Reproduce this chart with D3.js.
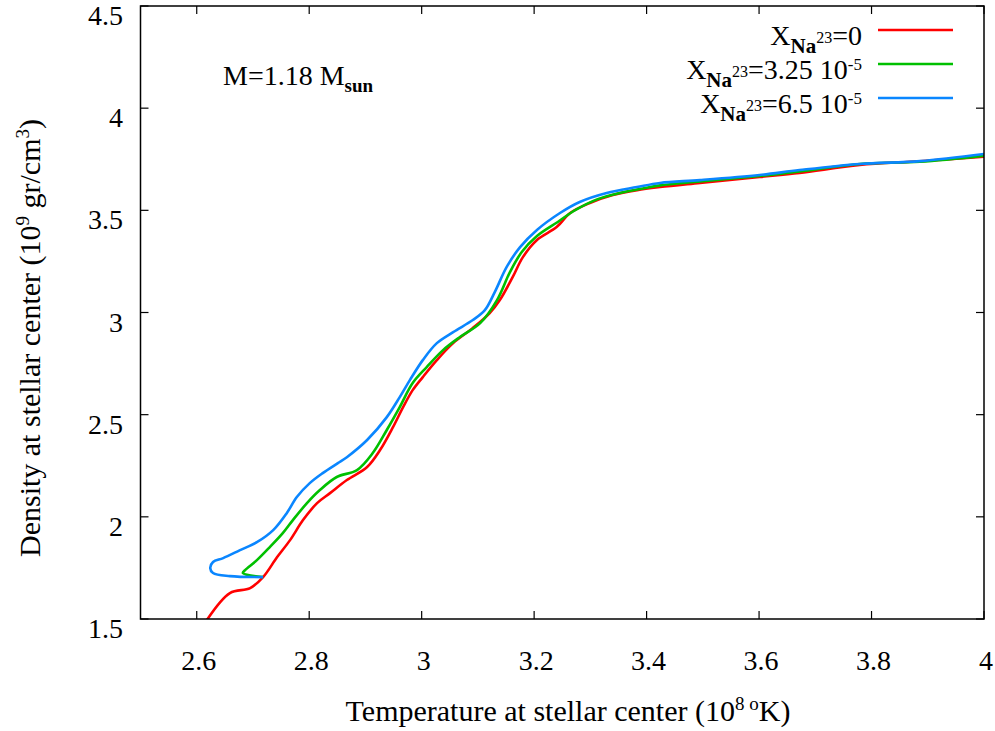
<!DOCTYPE html>
<html><head><meta charset="utf-8">
<script src="https://cdn.jsdelivr.net/npm/d3@7"></script>
</head><body style="margin:0">
<svg id="c" width="995" height="731"></svg>
<script>
// Data: temperature (10^8 K) and central density (10^9 g/cm^3)
const redT   = [2.618,2.659,2.695,2.718,2.743,2.766,2.789,2.814,2.837,2.867,2.903,2.926,2.949,2.967,2.984,3.002,3.027,3.056,3.091,3.121,3.139,3.162,3.180,3.205,3.240,3.264,3.299,3.340,3.383,3.424,3.495,3.601,3.672,3.779,3.886,4.0];
const redRho = [1.495,1.627,1.651,1.705,1.803,1.886,1.984,2.067,2.116,2.180,2.244,2.327,2.439,2.537,2.620,2.684,2.767,2.850,2.924,2.997,3.061,3.174,3.271,3.355,3.418,3.487,3.536,3.575,3.599,3.614,3.634,3.663,3.683,3.722,3.740,3.763];
const greenT   = [2.718,2.682,2.686,2.707,2.730,2.753,2.771,2.796,2.819,2.849,2.885,2.913,2.938,2.961,2.984,3.009,3.038,3.068,3.104,3.134,3.157,3.178,3.205,3.242,3.273,3.313,3.352,3.397,3.424,3.495,3.601,3.672,3.779,3.886,4.0];
const greenRho = [1.705,1.725,1.739,1.788,1.852,1.920,1.984,2.067,2.131,2.195,2.229,2.312,2.425,2.537,2.655,2.733,2.816,2.880,2.948,3.061,3.198,3.296,3.374,3.443,3.501,3.555,3.585,3.609,3.622,3.641,3.668,3.690,3.727,3.738,3.768];
const blueT   = [2.718,2.659,2.629,2.624,2.629,2.647,2.677,2.707,2.736,2.760,2.778,2.801,2.824,2.851,2.867,2.903,2.938,2.961,2.979,3.002,3.027,3.056,3.091,3.112,3.130,3.151,3.175,3.205,3.246,3.281,3.329,3.383,3.424,3.495,3.601,3.672,3.779,3.886,4.0];
const blueRho = [1.705,1.710,1.725,1.749,1.779,1.798,1.837,1.876,1.935,2.018,2.097,2.165,2.214,2.263,2.292,2.376,2.488,2.586,2.669,2.767,2.850,2.904,2.963,3.010,3.100,3.222,3.320,3.404,3.487,3.541,3.585,3.614,3.634,3.648,3.673,3.697,3.727,3.741,3.776];
const xTicks = [2.6,2.8,3.0,3.2,3.4,3.6,3.8,4.0];
const xTickLabels = ["2.6","2.8","3","3.2","3.4","3.6","3.8","4"];
const yTicks = [1.5,2.0,2.5,3.0,3.5,4.0,4.5];
const yTickLabels = ["1.5","2","2.5","3","3.5","4","4.5"];
const seriesNames = ["0","3.25 10","6.5 10"];
const seriesColors = ["#ff0000","#00c000","#0a86ff"];

const svg = d3.select("#c");
const L=140.5, R=984, T=6, B=619;
const x = d3.scaleLinear().domain([2.5,4]).range([L,R]);
const y = d3.scaleLinear().domain([1.5,4.5]).range([B,T]);

function serif(sel){ return sel.style("font-family",'"Liberation Serif"',"important"); }
function stext(px,py,anchor,size){
  return serif(svg.append("text").attr("x",px).attr("y",py).attr("text-anchor",anchor))
    .attr("font-size",size);
}

svg.append("defs").append("clipPath").attr("id","clip").append("rect")
  .attr("x",L).attr("y",T).attr("width",R-L).attr("height",B-T);

// ticks (inward, mirrored)
const tk=8;
xTicks.forEach(v=>{
  svg.append("line").attr("x1",x(v)).attr("x2",x(v)).attr("y1",B).attr("y2",B-tk).attr("stroke","#000").attr("stroke-width",1.2);
  svg.append("line").attr("x1",x(v)).attr("x2",x(v)).attr("y1",T).attr("y2",T+tk).attr("stroke","#000").attr("stroke-width",1.2);
});
yTicks.forEach(v=>{
  svg.append("line").attr("x1",L).attr("x2",L+tk).attr("y1",y(v)).attr("y2",y(v)).attr("stroke","#000").attr("stroke-width",1.2);
  svg.append("line").attr("x1",R).attr("x2",R-tk).attr("y1",y(v)).attr("y2",y(v)).attr("stroke","#000").attr("stroke-width",1.2);
});
xTicks.forEach((v,i)=>{ stext(x(v)+2,B+51,"middle",28).text(xTickLabels[i]); });
yTicks.forEach((v,i)=>{ stext(123,y(v)+19,"end",28).text(yTickLabels[i]); });

// lines
const line = d3.line().x(d=>x(d[0])).y(d=>y(d[1])).curve(d3.curveCatmullRom.alpha(0.5));
const series = [d3.zip(redT,redRho), d3.zip(greenT,greenRho), d3.zip(blueT,blueRho)];
const lg = svg.append("g").attr("clip-path","url(#clip)");
series.forEach((s,i)=>{
  lg.append("path").datum(s).attr("d",line).attr("fill","none")
    .attr("stroke",seriesColors[i]).attr("stroke-width",2.6).attr("stroke-linejoin","round");
});

// frame
svg.append("rect").attr("x",L).attr("y",T).attr("width",R-L).attr("height",B-T)
  .attr("fill","none").attr("stroke","#000").attr("stroke-width",1.5);

// legend
const legY=[30,64,98];
seriesNames.forEach((nm,i)=>{
  const t = stext(862,legY[i]+15,"end",28);
  t.append("tspan").text("X");
  t.append("tspan").attr("font-size",21).attr("font-weight","bold").attr("dy",8).text("Na");
  t.append("tspan").attr("font-size",16).attr("dy",-10).text("23");
  t.append("tspan").attr("dy",2).text("="+nm);
  if(i>0) t.append("tspan").attr("font-size",17).attr("dy",-9).text("-5");
  svg.append("line").attr("x1",878).attr("x2",953).attr("y1",legY[i]).attr("y2",legY[i])
    .attr("stroke",seriesColors[i]).attr("stroke-width",2.6);
});

// annotation
const a = stext(223,85,"start",28);
a.append("tspan").text("M=1.18 M");
a.append("tspan").attr("font-size",19).attr("font-weight","bold").attr("dy",7).text("sun");

// axis titles
const xt = stext(568,721,"middle",30);
xt.append("tspan").text("Temperature at stellar center (10");
xt.append("tspan").attr("font-size",19).attr("dy",-11).text("8");
xt.append("tspan").attr("font-size",19).text(" o");
xt.append("tspan").attr("dy",11).text("K)");

const yt = serif(svg.append("text").attr("transform","translate(40,338) rotate(-90)")
  .attr("text-anchor","middle")).attr("font-size",30);
yt.append("tspan").text("Density at stellar center (10");
yt.append("tspan").attr("font-size",19).attr("dy",-11).text("9");
yt.append("tspan").attr("dy",11).text(" gr/cm");
yt.append("tspan").attr("font-size",19).attr("dy",-11).text("3");
yt.append("tspan").attr("dy",11).text(")");
</script>
</body></html>
